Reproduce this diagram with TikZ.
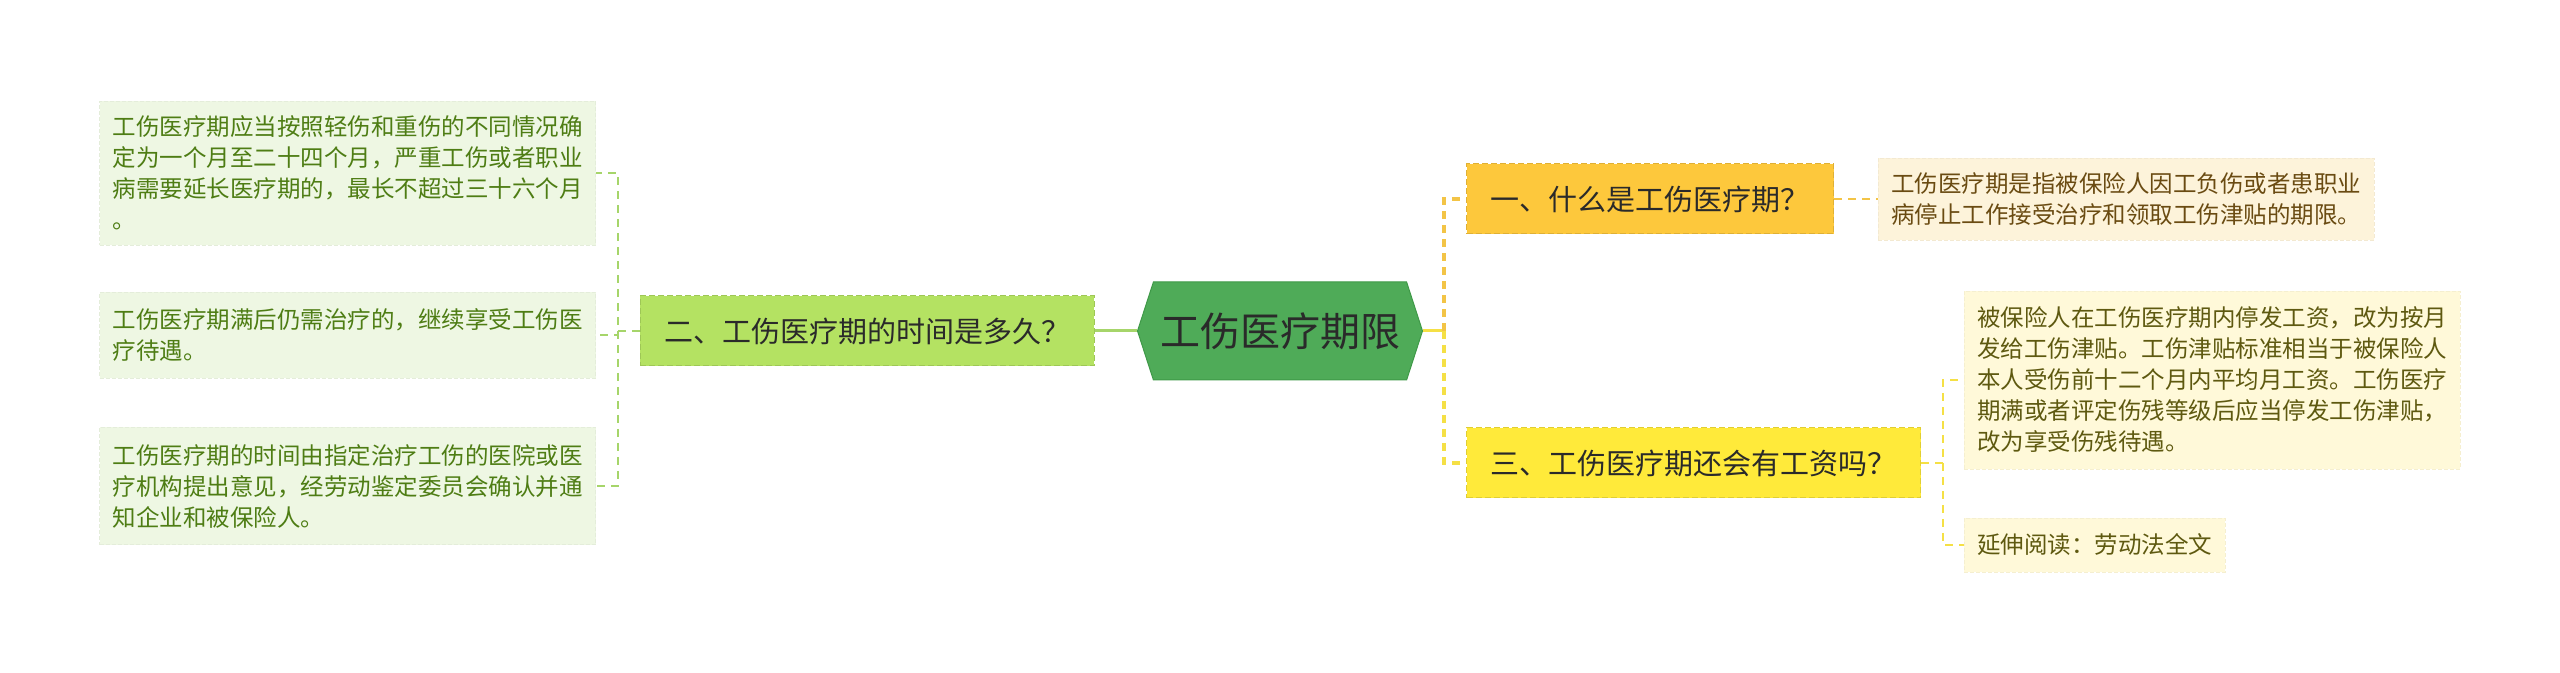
\documentclass[tikz,border=0pt]{standalone}
\usepackage{fontspec}
\newfontfamily\cjk{Noto Sans CJK SC}
\usetikzlibrary{shapes.symbols, positioning}

\definecolor{hubfill}{HTML}{4FAB58}
\definecolor{hubedge}{HTML}{3F9948}
\definecolor{inkdark}{HTML}{2A2A2A}
\definecolor{limefill}{HTML}{B4E262}
\definecolor{goldfill}{HTML}{FDC83C}
\definecolor{lemonfill}{HTML}{FFEA3A}
\definecolor{mintleaf}{HTML}{EEF7E3}
\definecolor{creamleaf}{HTML}{FDF3DA}
\definecolor{paleleaf}{HTML}{FFF9D9}
\definecolor{inkgreen}{HTML}{4E7D14}
\definecolor{inkbrown}{HTML}{6A4B12}
\definecolor{inkolive}{HTML}{5E5910}
\definecolor{linegreen}{HTML}{A6D56A}
\definecolor{lineorange}{HTML}{F3C446}
\definecolor{lineyellow}{HTML}{F5E045}

\begin{document}
\begin{tikzpicture}[
    x=0.5pt, y=-0.5pt,
    node distance=22pt,
    hub/.style={signal, signal to=east and west, signal pointer angle=144, fill=hubfill, draw=hubedge, line width=0.5pt, minimum width=142.5pt, minimum height=49pt, inner sep=0pt, text=inkdark, font=\cjk\fontsize{20pt}{24pt}\selectfont},
    branch/.style={rectangle, fill=#1, draw=#1!88!black, dash pattern=on 3pt off 1.5pt, line width=0.5pt, inner xsep=12pt, inner ysep=0pt, minimum height=35pt, text=inkdark, font=\cjk\fontsize{14.5pt}{17pt}\selectfont},
    leaf/.style={rectangle, fill=#1, draw=#1!96!black, dash pattern=on 2pt off 1pt, line width=0.4pt, inner xsep=6.5pt, inner ysep=0pt, align=left, font=\cjk\fontsize{11.75pt}{15.5pt}\selectfont},
    trunk/.style={draw=#1, line width=1.5pt},
    twig/.style={draw=#1, line width=1.2pt, dash pattern=on 4pt off 3pt}
]
    \useasboundingbox (0,0) rectangle (2560,673);

    % centre
    \node[hub] (root) at (1280,331) {工伤医疗期限};

    % left branch
    \node[branch=limefill, left=21pt of root] (b2) {二、工伤医疗期的时间是多久？};
    \node[leaf=mintleaf, text=inkgreen, minimum height=72pt, anchor=east] (l1) at (596,173)
        {工伤医疗期应当按照轻伤和重伤的不同情况确\\定为一个月至二十四个月，严重工伤或者职业\\病需要延长医疗期的，最长不超过三十六个月\\。};
    \node[leaf=mintleaf, text=inkgreen, minimum height=43pt, anchor=east] (l2) at (596,335)
        {工伤医疗期满后仍需治疗的，继续享受工伤医\\疗待遇。};
    \node[leaf=mintleaf, text=inkgreen, minimum height=58.5pt, anchor=east] (l3) at (596,486)
        {工伤医疗期的时间由指定治疗工伤的医院或医\\疗机构提出意见，经劳动鉴定委员会确认并通\\知企业和被保险人。};

    % right branches
    \node[branch=goldfill, anchor=west] (b1) at (1466,199) {一、什么是工伤医疗期？};
    \node[leaf=creamleaf, text=inkbrown, minimum height=41pt, right=22pt of b1] (r1)
        {工伤医疗期是指被保险人因工负伤或者患职业\\病停止工作接受治疗和领取工伤津贴的期限。};
    \node[branch=lemonfill, anchor=west] (b3) at (1466,463) {三、工伤医疗期还会有工资吗？};
    \node[leaf=paleleaf, text=inkolive, minimum height=89pt, anchor=west] (r2) at (1964,380)
        {被保险人在工伤医疗期内停发工资，改为按月\\发给工伤津贴。工伤津贴标准相当于被保险人\\本人受伤前十二个月内平均月工资。工伤医疗\\期满或者评定伤残等级后应当停发工伤津贴，\\改为享受伤残待遇。};
    \node[leaf=paleleaf, text=inkolive, minimum height=27pt, anchor=west] (r3) at (1964,545)
        {延伸阅读：劳动法全文};

    % connectors
    \draw[trunk=linegreen] (root.west) -- (b2.east);
    \draw[twig=linegreen, line width=1pt] (b2.west) -- ++(-22,0) coordinate (lj) |- (l1.east);
    \draw[twig=linegreen, line width=1pt] (lj) |- (l2.east);
    \draw[twig=linegreen, line width=1pt] (lj) |- (l3.east);

    \draw[trunk=lineyellow] (root.east) -- ++(21,0) coordinate (rj);
    \draw[twig=lineorange, line width=1.6pt] (rj) |- (b1.west);
    \draw[twig=lineyellow, line width=1.6pt] (rj) |- (b3.west);
    \draw[twig=lineorange] (b1.east) -- (r1.west);
    \draw[twig=lineyellow] (b3.east) -- ++(22,0) coordinate (bj) |- (r2.west);
    \draw[twig=lineyellow] (bj) |- (r3.west);
\end{tikzpicture}
\end{document}
